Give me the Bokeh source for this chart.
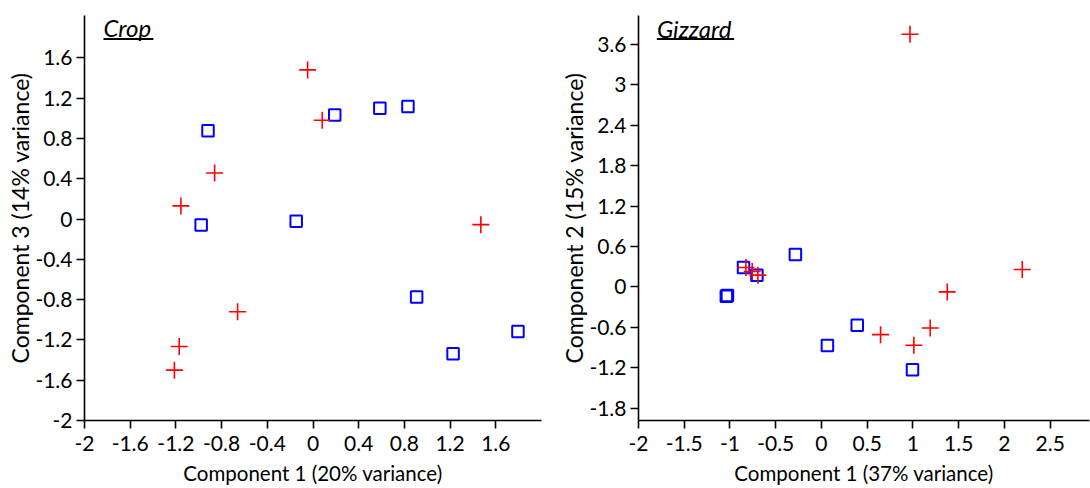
from bokeh.plotting import figure
from bokeh.layouts import row
from bokeh.models import FixedTicker, CustomJSTickFormatter, Label, BoxAnnotation, Range1d
from bokeh.embed import file_html
from bokeh.resources import INLINE

# ---------------- data ----------------
# Crop panel (Component 1 vs Component 3)
crop_red_x = [-0.047, 0.081, -0.861, -1.156, 1.469, -0.660, -1.171, -1.213]
crop_red_y = [1.480, 0.980, 0.457, 0.130, -0.056, -0.920, -1.265, -1.500]
crop_blue_x = [-0.919, 0.190, 0.585, 0.831, -0.979, -0.147, 0.907, 1.226, 1.794]
crop_blue_y = [0.877, 1.033, 1.099, 1.116, -0.060, -0.023, -0.775, -1.338, -1.116]

# Gizzard panel (Component 1 vs Component 2)
giz_red_x = [0.968, 2.195, 1.375, 1.189, 1.010, 0.646, -0.826, -0.757, -0.695]
giz_red_y = [3.751, 0.258, -0.074, -0.610, -0.867, -0.709, 0.287, 0.229, 0.174]
giz_blue_x = [-0.285, -0.852, -0.706, -1.040, -1.028, 0.391, 0.065, 0.995]
giz_blue_y = [0.481, 0.287, 0.174, -0.140, -0.128, -0.570, -0.872, -1.229]

crop_xticks = [-2, -1.6, -1.2, -0.8, -0.4, 0, 0.4, 0.8, 1.2, 1.6]
crop_yticks = [-2, -1.6, -1.2, -0.8, -0.4, 0, 0.4, 0.8, 1.2, 1.6]
giz_xticks = [-2, -1.5, -1, -0.5, 0, 0.5, 1, 1.5, 2, 2.5]
giz_yticks = [-1.8, -1.2, -0.6, 0, 0.6, 1.2, 1.8, 2.4, 3, 3.6]

FONT = "Lato"
RED = "#ff0000"
BLUE = "#0000ff"

fmt_code = "return Number(tick.toFixed(2)).toString();"


def make_panel(width, border_left, border_right, xr, yr, xticks, yticks,
               xlabel, ylabel, rx, ry, bx, by, title, title_pos, ul_box):
    p = figure(width=width, height=488, output_backend="svg", toolbar_location=None,
               x_range=Range1d(*xr), y_range=Range1d(*yr),
               min_border_left=border_left, min_border_right=border_right,
               min_border_top=15, min_border_bottom=68)
    p.outline_line_color = None
    p.grid.visible = False
    p.background_fill_color = "white"
    p.border_fill_color = "white"
    for ax, ticks, lab in ((p.xaxis[0], xticks, xlabel), (p.yaxis[0], yticks, ylabel)):
        ax.ticker = FixedTicker(ticks=ticks)
        ax.formatter = CustomJSTickFormatter(code=fmt_code)
        ax.axis_label = lab
        ax.axis_label_text_font = FONT
        ax.axis_label_text_font_style = "normal"
        ax.axis_label_text_color = "black"
        ax.major_label_text_font = FONT
        ax.major_label_text_font_size = "21px"
        ax.major_label_text_color = "black"
        ax.axis_line_color = "black"
        ax.axis_line_width = 1.6
        ax.major_tick_line_color = "black"
        ax.major_tick_line_width = 1.6
        ax.major_tick_in = 0
        ax.major_tick_out = 8
        ax.minor_tick_line_color = None
    p.xaxis[0].axis_label_text_font_size = "20.5px"
    p.yaxis[0].axis_label_text_font_size = "23px"
    p.xaxis[0].major_label_standoff = 7
    p.xaxis[0].axis_label_standoff = 7
    p.yaxis[0].major_label_standoff = 4
    p.yaxis[0].axis_label_standoff = -2

    p.scatter(bx, by, marker="square", size=11.5, fill_color=None,
              line_color=BLUE, line_width=2)
    p.scatter(rx, ry, marker="cross", size=17, line_color=RED, line_width=1.6)

    p.add_layout(Label(x=title_pos[0], y=title_pos[1], text=title,
                       text_font=FONT, text_font_style="italic",
                       text_font_size="24px", text_color="black",
                       text_baseline="top"))
    p.add_layout(BoxAnnotation(left=ul_box[0], right=ul_box[1], bottom=ul_box[2],
                               top=ul_box[3], fill_color="black", fill_alpha=1,
                               line_color=None))
    return p


p1 = make_panel(545, 84, 4, (-2.0, 2.0), (-2.0, 2.02), crop_xticks, crop_yticks,
                "Component 1 (20% variance)", "Component 3 (14% variance)",
                crop_red_x, crop_red_y, crop_blue_x, crop_blue_y,
                "Crop", (-1.834, 2.041), (-1.834, -1.397, 1.777, 1.797))

p2 = make_panel(545, 93, 1, (-2.0, 2.93), (-1.984, 4.03), giz_xticks, giz_yticks,
                "Component 1 (37% variance)", "Component 2 (15% variance)",
                giz_red_x, giz_red_y, giz_blue_x, giz_blue_y,
                "Gizzard", (-1.799, 4.058), (-1.799, -0.955, 3.665, 3.695))

layout = row(p1, p2)
open("out.html", "w").write(file_html(layout, INLINE))
